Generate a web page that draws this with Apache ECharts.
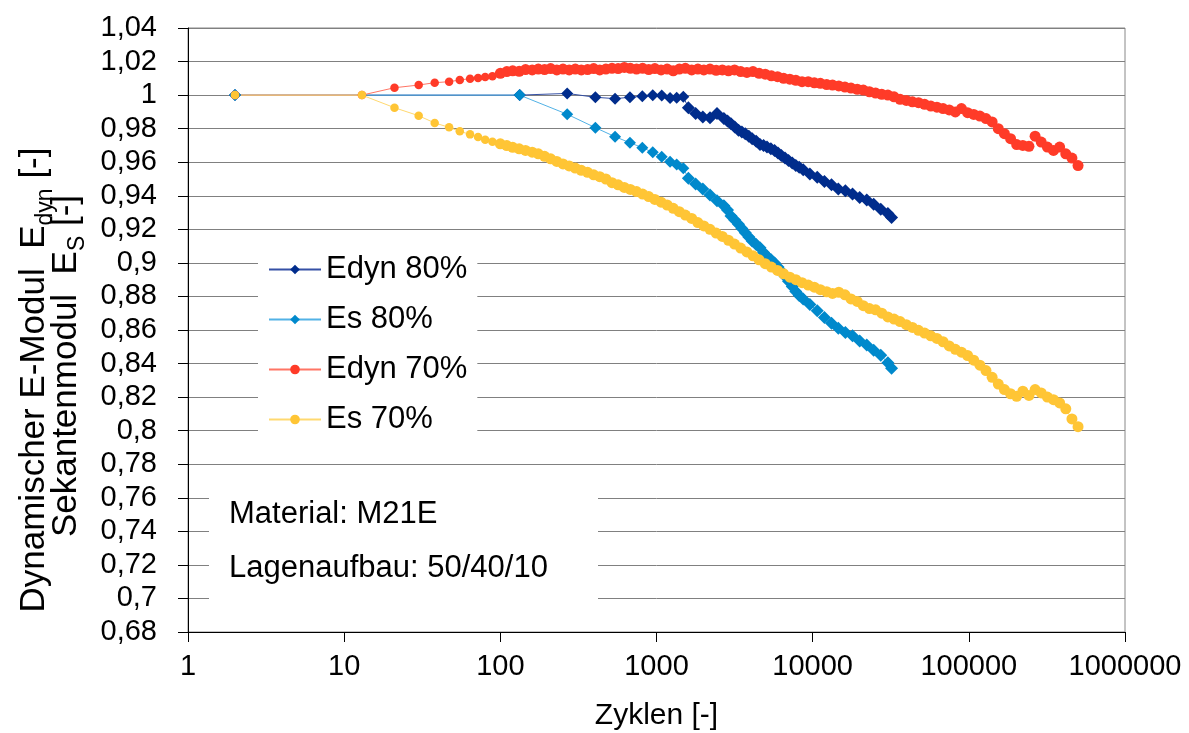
<!DOCTYPE html>
<html>
<head>
<meta charset="utf-8">
<script src="https://cdn.jsdelivr.net/npm/echarts@6/dist/echarts.min.js"></script>
<style>html,body{margin:0;padding:0;background:#fff;}#c{width:1189px;height:733px;}</style>
</head>
<body>
<div id="c"></div>
<script>
// ---- data ----
const seriesNames = ['Edyn 80%', 'Es 80%', 'Edyn 70%', 'Es 70%'];

const cycles80 = [2, 133, 268, 406, 543, 676, 811, 946, 1080, 1221, 1347, 1485,
  1600, 1780, 1980, 2200, 2440, 2700, 2850, 3000, 3170, 3350, 3520, 3700, 3900, 4100, 4350,
  4600, 4850, 5100, 5400, 5700, 6000, 6300, 6650, 7000, 7400, 7800, 8200, 8700, 9600, 10700,
  11900, 13200, 14600, 16200, 18000, 20000, 22200, 24600, 27300, 30300, 32000];

const edyn80 = [1.0, 1.0, 1.001, 0.9987, 0.9979, 0.9987, 0.9993, 0.9999, 0.9997, 0.9983, 0.9985, 0.999,
  0.9925, 0.989, 0.987, 0.9865, 0.989, 0.986, 0.9845, 0.983, 0.981, 0.979, 0.978, 0.977, 0.9755, 0.974, 0.9725,
  0.9705, 0.970, 0.969, 0.968, 0.967, 0.9655, 0.964, 0.9625, 0.961, 0.9595, 0.958, 0.957, 0.9555, 0.953, 0.951,
  0.9485, 0.9465, 0.944, 0.943, 0.941, 0.939, 0.9375, 0.935, 0.932, 0.9295, 0.927];

const es80 = [1.0, 1.0, 0.9886, 0.9806, 0.9752, 0.9716, 0.9687, 0.9659, 0.9633, 0.9603, 0.9587, 0.9564,
  0.9504, 0.947, 0.944, 0.9405, 0.937, 0.934, 0.9315, 0.928, 0.9255, 0.923, 0.9205, 0.918, 0.9155, 0.913, 0.911,
  0.909, 0.9062, 0.904, 0.902, 0.900, 0.8975, 0.895, 0.892, 0.889, 0.886, 0.883, 0.8805, 0.8785, 0.8752, 0.8715,
  0.8675, 0.864, 0.861, 0.8585, 0.8565, 0.8535, 0.851, 0.848, 0.845, 0.8405, 0.8372];

const cycles70 = [2, 13, 21, 30, 38, 47, 55, 64, 72, 80, 89,
  100, 110, 120, 132, 145, 160, 175, 192, 210, 230,
  252, 276, 302, 330, 362, 396, 433, 474, 519, 568,
  622, 680, 745, 815, 892, 976, 1070, 1170, 1280, 1400,
  1530, 1680, 1840, 2010, 2200, 2410, 2640, 2890, 3160, 3460,
  3790, 4150, 4540, 4970, 5440, 5960, 6520, 7140, 7810, 8550,
  9360, 10250, 11200, 12300, 13400, 14700, 16100, 17600, 19300, 21100,
  23100, 25300, 27700, 30300, 33200, 36300, 39800, 43500, 47600, 52100,
  57100, 62500, 68400, 74900, 82000, 89700, 98200, 107500, 117700, 128800,
  141000, 154400, 169000, 185000, 202500, 221700, 242700, 265700, 290800, 318400,
  348500, 381500, 417600, 457200, 500400];

const edyn70 = [1.0, 1.0, 1.0044, 1.006, 1.0074, 1.008, 1.009, 1.0098, 1.0102, 1.0108, 1.0112,
  1.0130, 1.0140, 1.0145, 1.0142, 1.0152, 1.0150, 1.0155, 1.0152, 1.0158, 1.0150,
  1.0155, 1.0150, 1.0155, 1.0150, 1.0152, 1.0158, 1.0150, 1.0155, 1.0160, 1.0158,
  1.0165, 1.0160, 1.0155, 1.0160, 1.0152, 1.0158, 1.0150, 1.0155, 1.0145, 1.0155,
  1.0160, 1.0150, 1.0155, 1.0150, 1.0155, 1.0148, 1.0150, 1.0145, 1.0150, 1.0140,
  1.0135, 1.0140, 1.0130, 1.0125, 1.0115, 1.0110, 1.0100, 1.0095, 1.0088, 1.0080,
  1.0080, 1.0073, 1.0070, 1.0063, 1.0060, 1.0055, 1.0048, 1.0042, 1.0035, 1.0030,
  1.0020, 1.0012, 1.0005, 1.0000, 0.9990, 0.9975, 0.9968, 0.9960, 0.9955, 0.9945,
  0.9935, 0.9928, 0.9920, 0.9912, 0.9900, 0.9920, 0.9895, 0.9885, 0.9875, 0.9860,
  0.9840, 0.9800, 0.9770, 0.9740, 0.9705, 0.9700, 0.9695, 0.9755, 0.9720, 0.9690,
  0.9670, 0.9690, 0.9650, 0.9625, 0.9580];

const es70 = [1.0, 1.0, 0.9925, 0.9877, 0.9834, 0.9808, 0.9784, 0.9766, 0.975, 0.9734, 0.9722,
  0.9710, 0.9699, 0.9689, 0.9680, 0.9670, 0.9660, 0.9650, 0.9635, 0.9620, 0.9605,
  0.9590, 0.9578, 0.9565, 0.9552, 0.9540, 0.9525, 0.9514, 0.9500, 0.9478, 0.9465,
  0.9450, 0.9438, 0.9425, 0.9410, 0.9395, 0.9378, 0.9362, 0.9345, 0.9325, 0.9305,
  0.9285, 0.9265, 0.9240, 0.9220, 0.9200, 0.9178, 0.9158, 0.9135, 0.9112, 0.9088,
  0.9065, 0.9042, 0.9018, 0.8995, 0.8975, 0.8955, 0.8935, 0.8915, 0.8900, 0.8882,
  0.8868, 0.8855, 0.8840, 0.8828, 0.8818, 0.8825, 0.8810, 0.8785, 0.8770, 0.8745,
  0.8728, 0.8720, 0.8700, 0.8678, 0.8665, 0.8650, 0.8632, 0.8615, 0.8598, 0.8582,
  0.8565, 0.8550, 0.8530, 0.8505, 0.8485, 0.8468, 0.8448, 0.8420, 0.8390, 0.8358,
  0.8318, 0.8278, 0.8245, 0.8220, 0.8205, 0.8235, 0.8210, 0.8245, 0.8225, 0.8200,
  0.8185, 0.8165, 0.8130, 0.8070, 0.8024];

const yTitle1 = ['Dynamischer E-Modul  E', 'dyn', ' [-]'];
const yTitle2 = ['Sekantenmodul  E', 'S', ' [-]'];
const xTitle = 'Zyklen [-]';
const noteLines = ['Material: M21E', 'Lagenaufbau: 50/40/10'];

// ---- chart ----
const FONT = '"Liberation Sans", Arial, sans-serif';
function pairs(xs, ys) { return xs.map((x, i) => [x, ys[i]]); }

const chart = echarts.init(document.getElementById('c'), null, {renderer: 'canvas', width: 1189, height: 733});

// sparse leading points drawn a bit smaller than the dense tail (style only)
const mk = (name, xs, ys, symbol, sparseCount, sparseSize, denseSize, mColor, lColor) => ({
  name, type: 'line', data: pairs(xs, ys), symbol,
  symbolSize: (v, p) => (p && p.dataIndex < sparseCount ? sparseSize : denseSize),
  showSymbol: true, showAllSymbol: true,
  itemStyle: {color: mColor, borderWidth: 0},
  lineStyle: {color: lColor, width: 1},
  emphasis: {disabled: true}, animation: false, z: 3
});

const titleRich = {
  a: {fontSize: 35, fontFamily: FONT, fill: '#000', lineHeight: 40, verticalAlign: 'top'},
  s: {fontSize: 23, fontFamily: FONT, fill: '#000', lineHeight: 16, verticalAlign: 'bottom'}
};

const option = {
  animation: false,
  backgroundColor: '#fff',
  textStyle: {fontFamily: FONT},
  grid: {left: 188, right: 64, top: 28, bottom: 101, containLabel: false, outerBoundsMode: 'none',
    show: true, borderColor: '#888', borderWidth: 1, backgroundColor: 'transparent'},
  xAxis: {
    type: 'log', logBase: 10, min: 1, max: 1000000,
    name: xTitle, nameLocation: 'middle', nameGap: 69,
    nameTextStyle: {fontSize: 30, color: '#000', fontFamily: FONT},
    axisLine: {lineStyle: {color: '#000', width: 1}},
    axisTick: {show: true, length: 10, inside: false, lineStyle: {color: '#000'}},
    minorTick: {show: false},
    splitLine: {show: false},
    axisLabel: {fontSize: 29, color: '#000', margin: 20, fontFamily: FONT,
      formatter: v => String(Math.round(v))}
  },
  yAxis: {
    type: 'value', min: 0.68, max: 1.04, interval: 0.02,
    axisLine: {show: true, lineStyle: {color: '#000', width: 1}},
    axisTick: {show: true, length: 10, inside: false, lineStyle: {color: '#000'}},
    splitLine: {show: true, lineStyle: {color: '#808080', width: 1}},
    axisLabel: {fontSize: 29, color: '#000', margin: 31, fontFamily: FONT,
      formatter: v => String(parseFloat(v.toFixed(2))).replace('.', ',')}
  },
  legend: {
    show: true, orient: 'vertical', left: 258, top: 248,
    data: seriesNames,
    itemWidth: 52, itemHeight: 12, itemGap: 19,
    padding: [6, 10, 6, 10],
    backgroundColor: '#fff',
    textStyle: {fontSize: 31, color: '#000', fontFamily: FONT},
    selectedMode: false
  },
  graphic: [
    {type: 'rect', z: 50, shape: {x: 209, y: 470, width: 389, height: 148}, style: {fill: '#fff'}},
    {type: 'text', z: 51, x: 229, y: 514, style: {text: noteLines[0], font: '31px ' + FONT, fill: '#000', verticalAlign: 'middle', align: 'left'}},
    {type: 'text', z: 51, x: 229, y: 568, style: {text: noteLines[1], font: '31px ' + FONT, fill: '#000', verticalAlign: 'middle', align: 'left'}},
    {type: 'text', z: 51, x: 37, y: 380, rotation: Math.PI / 2,
      style: {text: '{a|' + yTitle1[0] + '}{s|' + yTitle1[1] + '}{a|' + yTitle1[2] + '}', align: 'center', verticalAlign: 'middle', rich: titleRich}},
    {type: 'text', z: 51, x: 69, y: 366, rotation: Math.PI / 2,
      style: {text: '{a|' + yTitle2[0] + '}{s|' + yTitle2[1] + '}{a|' + yTitle2[2] + '}', align: 'center', verticalAlign: 'middle', rich: titleRich}}
  ],
  series: [
    mk(seriesNames[0], cycles80, edyn80, 'diamond', 12, 12, 13, '#002C8C', '#3550A5'),
    mk(seriesNames[1], cycles80, es80, 'diamond', 12, 12, 13, '#0089CC', '#52B2E6'),
    mk(seriesNames[2], cycles70, edyn70, 'circle', 11, 8.5, 11, '#FF3B28', '#FF7565'),
    mk(seriesNames[3], cycles70, es70, 'circle', 11, 8.5, 11, '#FFC535', '#FFD970')
  ]
};
chart.setOption(option);
</script>
</body>
</html>
